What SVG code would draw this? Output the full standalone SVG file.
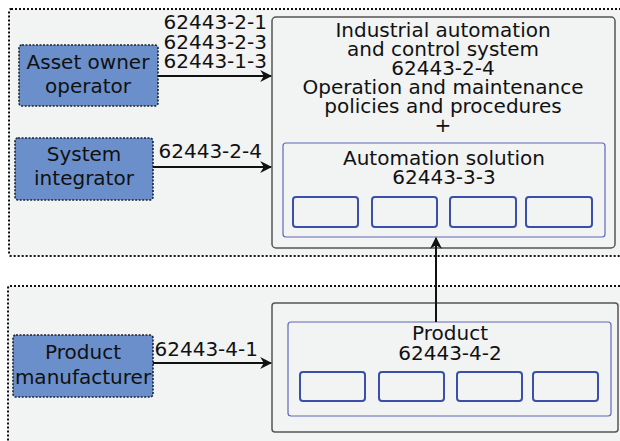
<svg xmlns="http://www.w3.org/2000/svg" width="620" height="441" viewBox="0 0 620 441">
<style>
text{font-family:"DejaVu Sans","Liberation Sans",sans-serif;font-size:20px;fill:#111}
.c{text-anchor:middle}
.r{text-anchor:end}
.zone{fill:#f2f3f3;stroke:#111;stroke-width:2;stroke-dasharray:2 2}
.actor{fill:#6a8fcb;stroke:#1a2233;stroke-width:1.6;stroke-dasharray:2 1.5}
.outer{fill:#f2f3f3;stroke:#555;stroke-width:1.5}
.inner{fill:#f2f3f3;stroke:#6068b8;stroke-width:1.2}
.comp{fill:#f2f3f3;stroke:#3a4fa8;stroke-width:2}
.edge{fill:none;stroke:#111;stroke-width:2}
</style>
<defs>
<marker id="ah" viewBox="0 0 10 10" refX="9" refY="5" markerWidth="6" markerHeight="6" markerUnits="strokeWidth" orient="auto">
<path d="M0,0 L10,5 L0,10 L3,5 Z" fill="#111"/>
</marker>
</defs>
<rect width="620" height="441" fill="#fff"/>
<g id="zone-top"><rect class="zone" x="9" y="9" width="620" height="247" rx="2"/></g>
<g id="zone-bottom"><rect class="zone" x="8" y="286" width="620" height="170" rx="2"/></g>
<g id="iacs">
<rect class="outer" x="272" y="17" width="343" height="231" rx="4"/>
<text class="c" x="443" y="37">Industrial automation</text>
<text class="c" x="443" y="56">and control system</text>
<text class="c" x="443" y="75">62443-2-4</text>
<text class="c" x="443" y="94">Operation and maintenance</text>
<text class="c" x="443" y="113">policies and procedures</text>
<text class="c" x="443" y="132">+</text>
</g>
<g id="automation-solution">
<rect class="inner" x="283" y="143" width="322" height="94" rx="3"/>
<text class="c" x="444" y="165">Automation solution</text>
<text class="c" x="444" y="184">62443-3-3</text>
<rect class="comp" x="293" y="197" width="65" height="30" rx="3"/>
<rect class="comp" x="372" y="197" width="65" height="30" rx="3"/>
<rect class="comp" x="450" y="197" width="66" height="30" rx="3"/>
<rect class="comp" x="526" y="197" width="66" height="30" rx="3"/>
</g>
<g id="product-outer"><rect class="outer" x="272" y="303" width="346" height="129" rx="3"/></g>
<g id="product">
<rect class="inner" x="288" y="322" width="323" height="94" rx="3"/>
<text class="c" x="450" y="340">Product</text>
<text class="c" x="450" y="360">62443-4-2</text>
<rect class="comp" x="300" y="372" width="65" height="29" rx="3"/>
<rect class="comp" x="379" y="372" width="65" height="29" rx="3"/>
<rect class="comp" x="457" y="372" width="65" height="29" rx="3"/>
<rect class="comp" x="533" y="372" width="65" height="29" rx="3"/>
</g>
<g id="asset-owner">
<rect class="actor" x="19" y="45" width="139" height="61" rx="3"/>
<text class="c" x="88" y="69">Asset owner</text>
<text class="c" x="88" y="93">operator</text>
</g>
<g id="system-integrator">
<rect class="actor" x="15" y="138" width="138" height="62" rx="3"/>
<text class="c" x="84" y="161">System</text>
<text class="c" x="84" y="185">integrator</text>
</g>
<g id="product-manufacturer">
<rect class="actor" x="13" y="335" width="140" height="62" rx="3"/>
<text class="c" x="83" y="359">Product</text>
<text class="c" x="83" y="384">manufacturer</text>
</g>
<g id="connectors">
<path class="edge" d="M158,76 H271" marker-end="url(#ah)"/>
<path class="edge" d="M153,167 H271" marker-end="url(#ah)"/>
<path class="edge" d="M153,363 H271" marker-end="url(#ah)"/>
<path class="edge" d="M436,322 V238" marker-end="url(#ah)"/>
<text class="r" x="267" y="29">62443-2-1</text>
<text class="r" x="267" y="49">62443-2-3</text>
<text class="r" x="267" y="68">62443-1-3</text>
<text class="r" x="262" y="158">62443-2-4</text>
<text class="r" x="258" y="356">62443-4-1</text>
</g>
</svg>
